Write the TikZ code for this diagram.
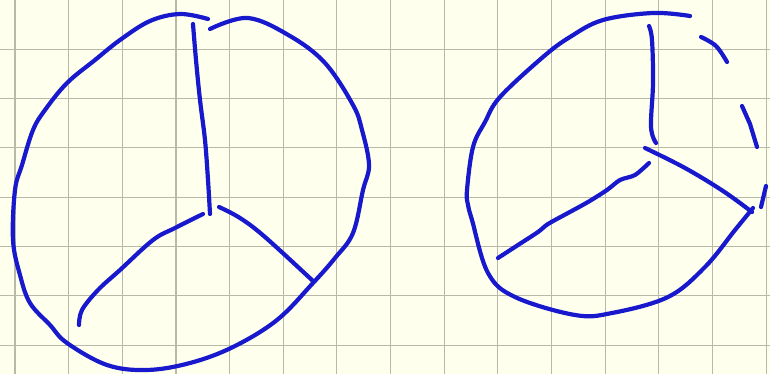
\documentclass[tikz,border=0pt]{standalone}
\definecolor{paper}{RGB}{255,255,238}
\definecolor{gridc}{RGB}{185,185,170}
\definecolor{ink}{RGB}{24,24,205}
\begin{document}
\begin{tikzpicture}[x=1pt,y=-1pt,
  pen/.style={ink,line width=4.2pt,line cap=round,line join=round},
  gridline/.style={gridc,line width=1.1pt}]
\fill[paper] (0,0) rectangle (770,374);
\useasboundingbox (0,0) rectangle (770,374);
% grid
\foreach \k in {0,...,14} \draw[gridline] ({15+53.65*\k},0) -- ({15+53.65*\k},374);
\foreach \k in {1,...,7} \draw[gridline] (0,{49.3*\k}) -- (770,{49.3*\k});
% ---- left circle ----
\draw[pen] plot[smooth,tension=0.6] coordinates {(208,19) (180,14) (150,21) (120,40) (95,60) (67,83) (45,110) (33,130) (22,165) (15,190) (13,240) (20,275) (30,303) (50,325) (67,343) (107,365) (147,370) (190,363) (233,347) (277,320) (313,283) (335,258) (353,233) (363,190) (369,165) (362,130) (353,105) (325,63) (290,36) (248,18) (210,29)};
% vertical spoke
\draw[pen] plot[smooth,tension=0.6] coordinates {(193,24) (196,60) (200,100) (205,140) (208,180) (210,214)};
% left spoke
\draw[pen] plot[smooth,tension=0.6] coordinates {(203,214) (175,228) (153,240) (120,270) (98,290) (82,310) (79,325)};
% right spoke
\draw[pen] plot[smooth,tension=0.6] coordinates {(219,207) (240,218) (265,237) (313,281)};
% ---- right circle ----
\draw[pen] plot[smooth,tension=0.6] coordinates {(690,16) (653,13) (603,20) (570,37) (543,57) (500,97) (485,122) (473,147) (467,190) (468,205) (472,220) (488,273) (515,297) (575,315) (612,313) (668,297) (705,267) (735,230) (753,208)};
% dashes on the right
\draw[pen] plot[smooth,tension=0.6] coordinates {(701,37) (716,46) (727,62)};
\draw[pen] (742,106) -- (750,124) -- (757,147);
\draw[pen] (766,186) -- (761,207);
% vertical spoke
\draw[pen] plot[smooth,tension=0.6] coordinates {(649,26) (652,40) (653,83) (651,127) (656,143)};
% right spoke
\draw[pen] plot[smooth,tension=0.6] coordinates {(645,148) (685,168) (723,191) (752,212)};
% left spoke
\draw[pen] plot[smooth,tension=0.5] coordinates {(649,163) (635,175) (620,180) (607,190) (588,202) (568,213) (548,224) (538,232) (518,245) (498,258)};
\end{tikzpicture}
\end{document}
